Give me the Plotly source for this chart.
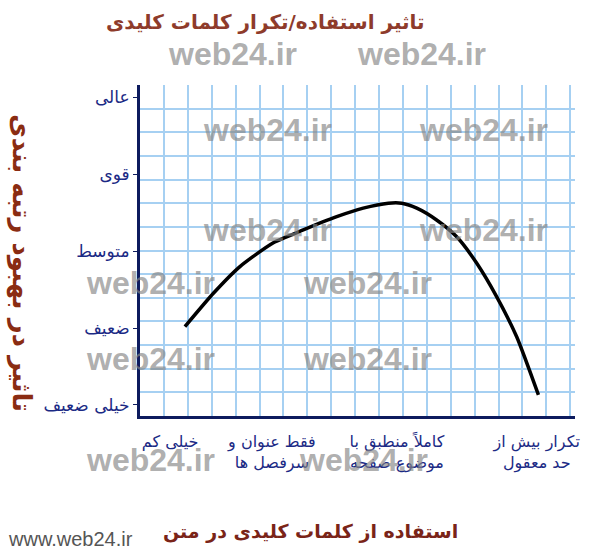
import plotly.graph_objects as go

# ---- data ----
curve_x = [1.88, 3.07, 4.18, 5.58, 6.83, 8.23, 9.34, 10.39, 10.95, 11.58, 12.41, 13.25, 14.09, 14.92, 15.76, 16.67]
curve_y = [3.78, 5.19, 6.32, 7.33, 7.87, 8.43, 8.79, 9.00, 9.00, 8.79, 8.29, 7.58, 6.46, 5.05, 3.35, 0.89]

x_tick_vals = [1.26, 5.52, 10.75, 16.6]
x_tick_text = ["خیلی کم", "فقط عنوان و<br>سرفصل ها", "کاملاً منطبق با<br>موضوع صفحه", "تکرار بیش از<br>حد معقول"]

y_tick_vals = [0.47, 3.72, 6.97, 10.22, 13.47]
y_tick_text = ["خیلی ضعیف", "ضعیف", "متوسط", "قوی", "عالی"]

title_text = "تاثیر استفاده/تکرار کلمات کلیدی"
x_title_text = "استفاده از کلمات کلیدی در متن"
y_title_text = "تاثیر در بهبود رتبه بندی"
watermark = "web24.ir"
site = "www.web24.ir"

# ---- layout geometry (pixels) ----
W, H = 600, 552
L, R, T, B = 140, 25, 85, 136
PW, PH = W - L - R, H - T - B


def px(x):
    return (x - L) / PW


def py(y):
    return (H - B - y) / PH


FONT = "DejaVu Sans"
NAVY = "#1b2a85"

fig = go.Figure()
fig.add_trace(go.Scatter(
    x=curve_x, y=curve_y, mode="lines",
    line=dict(color="black", width=3.5, shape="spline", smoothing=0.6),
    hoverinfo="skip", showlegend=False,
))

fig.update_layout(
    width=W, height=H,
    margin=dict(l=L, r=R, t=T, b=B),
    paper_bgcolor="white", plot_bgcolor="white",
    showlegend=False,
    xaxis=dict(
        range=[0, 18.2], tickmode="array", tickvals=x_tick_vals, ticktext=x_tick_text,
        showgrid=False, zeroline=False, ticks="", ticklabelstandoff=9,
        tickfont=dict(family=FONT, size=16, color=NAVY),
        showline=True, linecolor="#0d1b5e", linewidth=3,
        minor=dict(tick0=0, dtick=1, showgrid=True, gridcolor="#a6d0f2", gridwidth=1.5, ticks=""),
    ),
    yaxis=dict(
        range=[0, 14], tickmode="array", tickvals=y_tick_vals, ticktext=y_tick_text,
        showgrid=False, zeroline=False, ticks="outside", ticklen=4, tickcolor="#0d1b5e",
        tickfont=dict(family=FONT, size=17, color=NAVY),
        showline=True, linecolor="#0d1b5e", linewidth=3,
        minor=dict(tick0=0, dtick=1, showgrid=True, gridcolor="#a6d0f2", gridwidth=1.5, ticks=""),
    ),
)

ann = []
ann.append(dict(text="<b>" + title_text + "</b>", x=px(265), y=py(22), xref="paper", yref="paper",
                showarrow=False, font=dict(family=FONT, size=20, color="#8e3b2b"),
                xanchor="center", yanchor="middle"))
ann.append(dict(text="<b>" + x_title_text + "</b>", x=px(310), y=py(531), xref="paper", yref="paper",
                showarrow=False, font=dict(family=FONT, size=19, color="#7a2418"),
                xanchor="center", yanchor="middle"))
ann.append(dict(text="<b>" + y_title_text + "</b>", x=px(22), y=py(263), xref="paper", yref="paper",
                showarrow=False, textangle=90, font=dict(family=FONT, size=26, color="#8a2c12"),
                xanchor="center", yanchor="middle"))
ann.append(dict(text=site, x=px(70), y=py(539), xref="paper", yref="paper",
                showarrow=False, font=dict(family="Liberation Sans", size=20, color="#555555"),
                xanchor="center", yanchor="middle"))

wm_positions = [(232, 54), (421, 54), (267, 130), (483, 130), (267, 230), (483, 230),
                (150, 283), (367, 283), (150, 359), (367, 359), (150, 460), (363, 460)]
for (wx, wy) in wm_positions:
    ann.append(dict(text="<b>" + watermark + "</b>", x=px(wx), y=py(wy), xref="paper", yref="paper",
                    showarrow=False, font=dict(family="Liberation Sans", size=32, color="rgba(135,135,135,0.68)"),
                    xanchor="center", yanchor="middle"))

fig.update_layout(annotations=ann)
fig.write_html("out.html", config={"displayModeBar": False},
               post_script="document.body.style.margin='0';document.body.style.padding='0';")
